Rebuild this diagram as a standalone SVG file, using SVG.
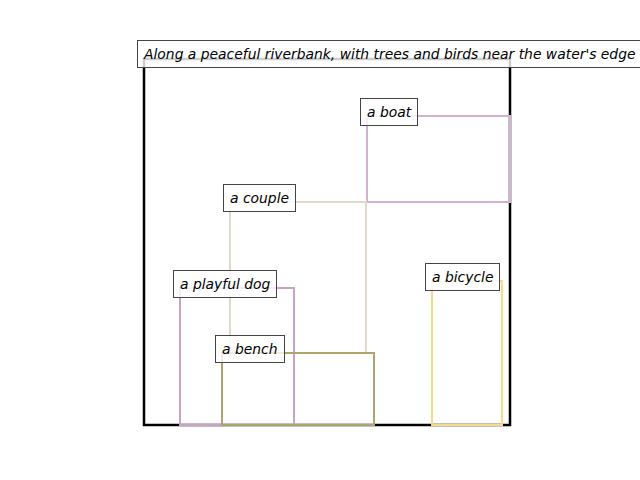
<svg xmlns="http://www.w3.org/2000/svg" width="640" height="480" viewBox="0 0 640 480">
<style>
.obj{fill:none;stroke-width:2}
.lbl rect{fill:#ffffff;fill-opacity:0.8;stroke:#444444;stroke-width:1}
.lbl text{font-family:"DejaVu Sans",sans-serif;font-style:italic;font-size:13.89px;fill:#000000}
</style>
<rect width="640" height="480" fill="#ffffff"/>
<g id="scene">
<rect x="144" y="59" width="366" height="366" fill="none" stroke="#000000" stroke-width="2.5"/>
</g>
<g id="boat-box"><rect class="obj" x="367" y="116" width="143" height="86" stroke="#d4b0d4"/></g>
<g id="couple-box"><rect class="obj" x="230" y="202" width="136" height="151" stroke="#e0d9c8"/></g>
<g id="dog-box"><rect class="obj" x="180" y="288" width="114" height="137" stroke="#c8a2c8"/></g>
<g id="bench-box"><rect class="obj" x="222" y="353" width="152" height="72" stroke="#b0a36c"/></g>
<g id="bicycle-box"><rect class="obj" x="432" y="281" width="70" height="144" stroke="#f5da88"/></g>
<g id="connectors"></g>
<g id="title" class="lbl"><rect x="137.5" y="40.5" width="510" height="27"/><text x="144" y="59">Along a peaceful riverbank, with trees and birds near the water's edge</text></g>
<g id="boat" class="lbl"><rect x="360.5" y="98.5" width="57" height="27"/><text x="367" y="117">a boat</text></g>
<g id="couple" class="lbl"><rect x="223.5" y="184.5" width="72" height="27"/><text x="230" y="203">a couple</text></g>
<g id="dog" class="lbl"><rect x="173.5" y="270.5" width="103" height="27"/><text x="180" y="289">a playful dog</text></g>
<g id="bench" class="lbl"><rect x="215.5" y="335.5" width="69" height="27"/><text x="222" y="354">a bench</text></g>
<g id="bicycle" class="lbl"><rect x="425.5" y="263.5" width="74" height="27"/><text x="432" y="282">a bicycle</text></g>
</svg>
